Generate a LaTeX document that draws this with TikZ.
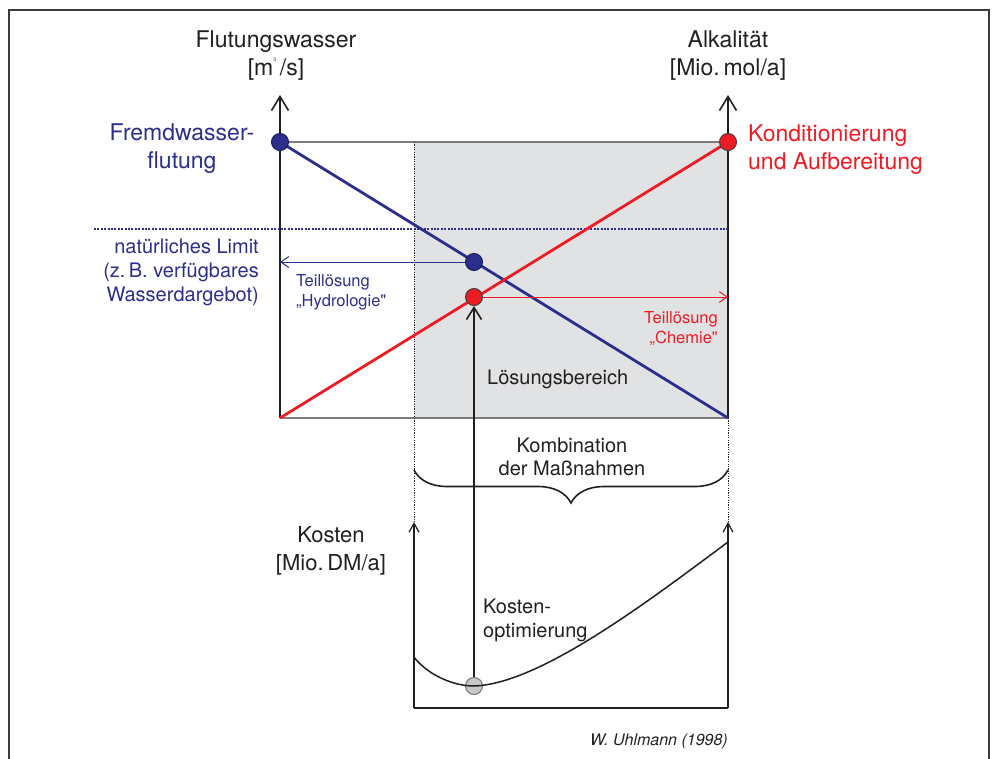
\documentclass[tikz,border=0pt]{standalone}
\usepackage{fontspec}
\setmainfont{TeX Gyre Heros}[Ligatures=TeXOff]
\usetikzlibrary{arrows.meta,decorations.pathreplacing}
\definecolor{dblue}{RGB}{43,46,140}
\definecolor{dred}{RGB}{237,28,36}
\definecolor{ink}{RGB}{35,31,32}
\definecolor{zonegray}{RGB}{225,226,228}
\definecolor{edgegray}{RGB}{125,125,125}
\definecolor{framegray}{RGB}{60,60,60}
\definecolor{dotgray}{RGB}{200,200,200}
\begin{document}
\begin{tikzpicture}[x=1pt,y=-1pt,
  bigtxt/.style={font=\fontsize{23}{28}\selectfont, inner sep=0pt, text=ink},
  midtxt/.style={font=\fontsize{20}{24}\selectfont, inner sep=0pt, text=ink},
  smalltxt/.style={font=\fontsize{16.5}{19.5}\selectfont, inner sep=0pt},
  axisline/.style={draw=ink, line width=1.5pt},
  axisarrow/.style={axisline, -{Straight Barb[length=14pt,width=17pt,line width=1.6pt]}},
  costarrow/.style={draw=ink, line width=1.3pt, -{Straight Barb[length=9pt,width=10pt,line width=1.2pt]}},
  guide/.style={draw=ink, line width=0.9pt, dash pattern=on 1.2pt off 1.2pt},
  edge/.style={draw=edgegray, line width=1.6pt},
  dot/.style={circle, minimum size=17pt, inner sep=0pt, line width=1pt},
  bluedot/.style={dot, fill=dblue, draw=dblue!60!black},
  reddot/.style={dot, fill=dred, draw=black!75},
  greydot/.style={dot, fill=dotgray, draw=black!55},
]
\useasboundingbox (0,0) rectangle (993,758);

% outer frame
\draw[framegray, line width=2.5pt] (9,760) -- (9,10) -- (989,10) -- (989,760);

% solution zone
\fill[zonegray] (414,142) rectangle (728,418);

% corner points of the two measures
\coordinate (tl) at (280,142);
\coordinate (tr) at (728,142);
\coordinate (bl) at (280,418);
\coordinate (br) at (728,418);
\coordinate (ltop) at (280,95);
\coordinate (rtop) at (728,95);
\coordinate (zl) at (414,142);
\coordinate (cl) at (414,522);
\coordinate (cr) at (728,522);
\coordinate (cbl) at (414,708);
\coordinate (cbr) at (728,708);

\draw[edge] (tl) -- (tr);
\draw[edge] (bl) -- (br);

% dotted guides of the cost range
\draw[guide] (zl) -- (cl);
\draw[guide] (br) -- (cr);

% axes
\draw[axisarrow] (bl) -- (ltop);
\draw[axisarrow] (br) -- (rtop);
\draw[costarrow] (cbl) -- (cl);
\draw[costarrow] (cbr) -- (cr);
\draw[draw=ink, line width=1.6pt] (cbl) -- (cbr);

% natural limit
\coordinate (limL) at (94,229);
\coordinate (limR) at (728,229);
\draw[dblue, line width=2pt, dash pattern=on 2pt off 1.4pt] (limL) -- (limR);

% measure lines
\draw[dblue, line width=2.8pt] (tl) -- (br);
\draw[dred, line width=2.8pt] (bl) -- (tr);

% points
\node[bluedot] (bstart) at (tl) {};
\node[reddot] (rend) at (tr) {};
\node[bluedot] (bsol) at (474,262) {};
\node[reddot] (rsol) at (474,297) {};
\node[greydot] (copt) at (474,686) {};

% partial solutions
\coordinate (hydroEnd) at (280,262);
\coordinate (chemEnd) at (728,297);
\draw[dblue, line width=1pt, -{Straight Barb[length=8pt,width=11pt,line width=1pt]}] (bsol) -- (hydroEnd);
\draw[dred, line width=1pt, -{Straight Barb[length=8pt,width=11pt,line width=1pt]}] (rsol) -- (chemEnd);

% cost optimum link
\draw[draw=ink, line width=1.5pt, -{Straight Barb[length=12pt,width=15pt,line width=1.6pt]}] (copt) -- (rsol);

% cost curve
\coordinate (cstart) at (414,657);
\coordinate (cend) at (728,542);
\draw[draw=ink, line width=1.5pt] (cstart) .. controls (425,672) and (450,686) .. (copt.center)
  .. controls (540,684) and (650,600) .. (cend);

% combination brace
\coordinate (brR) at (728,470);
\coordinate (brL) at (414,470);
\draw[draw=ink, line width=1.6pt, decorate, decoration={brace, amplitude=33pt}] (brR) -- (brL);

% labels (base anchor = baseline of the last line)
\node[bigtxt, anchor=base, align=center] (flut) at (276,75)
  {Flutungswasser\\{}[m\raisebox{0.6em}{\fontsize{5}{5}\selectfont 3}\,/s]};
\node[bigtxt, anchor=base, align=center] (alk) at (728,75)
  {Alkalität\\{}[Mio.\,mol/a]};
\node[bigtxt, anchor=base, align=center, text=dblue] (fremd) at (182,168)
  {Fremdwasser-\\flutung};
\node[bigtxt, anchor=base west, align=left, text=dred] (kond) at (748,169)
  {Konditionierung\\und Aufbereitung};
\node[midtxt, anchor=base east, align=right, text=dblue] (limit) at (259,301)
  {natürliches Limit\\(z.\,B. verfügbares\\Wasserdargebot)};
\node[smalltxt, anchor=base west, align=left, text=dblue] (hydro) at (296,306)
  {Teillösung\\„Hydrologie"};
\node[smalltxt, anchor=base east, align=right, text=dred] (chem) at (718,343)
  {Teillösung\\„Chemie"};
\node[midtxt, anchor=base west] (zone) at (487,384) {Lösungsbereich};
\node[midtxt, anchor=base, align=center,
  font=\fontsize{20}{23}\selectfont] (comb) at (572,475)
  {Kombination\\der Maßnahmen};
\node[bigtxt, anchor=base, align=center,
  font=\fontsize{22}{28}\selectfont] (cost) at (331,570)
  {Kosten\\{}[Mio.\,DM/a]};
\node[midtxt, anchor=base west, align=left] (kopt) at (483,637)
  {Kosten-\\optimierung};
\node[inner sep=0pt, anchor=base east, text=ink,
  font=\fontsize{16}{18}\selectfont\itshape] (author) at (728,745)
  {W. Uhlmann (1998)};
\end{tikzpicture}
\end{document}
